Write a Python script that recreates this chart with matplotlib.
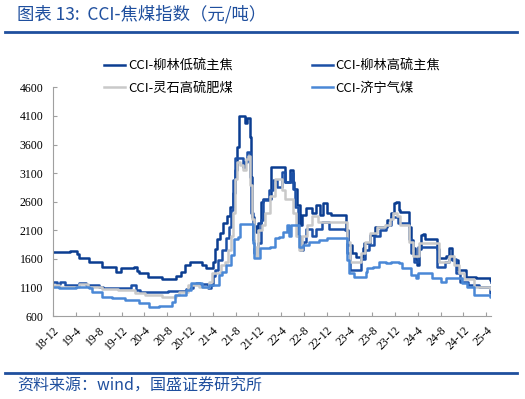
import matplotlib
matplotlib.use('Agg')
import matplotlib.pyplot as plt
from matplotlib.lines import Line2D
import pandas as pd

# CCI-柳林低硫主焦
a_dates = ['2018-12-01', '2019-02-26', '2019-04-05', '2019-04-15', '2019-06-08', '2019-08-17',
           '2019-11-01', '2019-11-27', '2020-02-05', '2020-02-22', '2020-03-02', '2020-04-19',
           '2020-07-03', '2020-09-16', '2020-10-13', '2020-11-04', '2020-12-01', '2021-02-03',
           '2021-02-24', '2021-04-01', '2021-04-12', '2021-04-22', '2021-05-08', '2021-05-24',
           '2021-06-15', '2021-07-01', '2021-07-17', '2021-07-27', '2021-08-07', '2021-08-18',
           '2021-09-20', '2021-10-01', '2021-10-16', '2021-10-24', '2021-10-30', '2021-11-07',
           '2021-11-20', '2021-11-28', '2021-12-16', '2021-12-24', '2022-02-09', '2022-04-20',
           '2022-05-17', '2022-06-02', '2022-06-12', '2022-06-28', '2022-07-09', '2022-07-20',
           '2022-08-13', '2022-09-12', '2022-10-06', '2022-10-25', '2022-11-10', '2022-12-01',
           '2022-12-23', '2023-03-14', '2023-03-27', '2023-04-15', '2023-05-09', '2023-06-11',
           '2023-06-21', '2023-07-18', '2023-08-14', '2023-10-17', '2023-11-11', '2023-11-27',
           '2023-12-07', '2023-12-21', '2023-12-29', '2024-02-15', '2024-02-26', '2024-03-07',
           '2024-03-17', '2024-03-25', '2024-04-06', '2024-04-19', '2024-04-27', '2024-05-07',
           '2024-07-13', '2024-07-24', '2024-08-28', '2024-09-16', '2024-10-02', '2024-11-01',
           '2024-12-16', '2025-02-08', '2025-04-20', '2025-04-25']
a_vals = [1720, 1745, 1680, 1610, 1550, 1462,
          1375, 1434, 1462, 1380, 1346, 1287,
          1250, 1300, 1375, 1490, 1540, 1500,
          1434, 1550, 1780, 1940, 2045, 2220,
          2350, 2510, 2745, 3150, 3560, 4100,
          3970, 4060, 3740, 3040, 2340, 2180,
          2074, 2225, 2600, 2650, 3210, 2950,
          3150, 2950, 2830, 2540, 2190, 2366,
          2483, 2400, 2541, 2366, 2571, 2400,
          2366, 2104, 1842, 1697, 1637, 1784,
          1871, 2017, 2162, 2279, 2396, 2571,
          2600, 2454, 2425, 2162, 1929, 1784,
          1600, 1492, 1780, 2017, 2040, 1940,
          1780, 1609, 1650, 1784, 1580, 1405,
          1287, 1258, 1230, 1200]

# CCI-柳林高硫主焦
b_dates = ['2018-12-01', '2018-12-21', '2019-01-05', '2019-02-03', '2019-04-15', '2019-05-24',
           '2019-08-01', '2019-08-23', '2019-10-10', '2020-01-20', '2020-02-16', '2020-03-08',
           '2020-05-10', '2020-08-05', '2020-11-10', '2020-12-01', '2020-12-14', '2021-01-02',
           '2021-01-23', '2021-03-06', '2021-03-22', '2021-04-01', '2021-04-12', '2021-04-28',
           '2021-05-19', '2021-06-10', '2021-06-28', '2021-07-09', '2021-07-17', '2021-07-27',
           '2021-08-24', '2021-09-09', '2021-09-20', '2021-10-01', '2021-10-19', '2021-10-24',
           '2021-11-01', '2021-11-10', '2021-11-28', '2021-12-16', '2021-12-24', '2022-01-26',
           '2022-02-16', '2022-03-08', '2022-04-04', '2022-04-20', '2022-05-23', '2022-06-02',
           '2022-06-15', '2022-07-01', '2022-07-09', '2022-07-25', '2022-08-13', '2022-09-15',
           '2022-10-06', '2022-11-08', '2022-12-12', '2023-03-11', '2023-03-22', '2023-04-07',
           '2023-06-05', '2023-06-24', '2023-07-13', '2023-08-09', '2023-09-11', '2023-10-12',
           '2023-11-08', '2023-12-15', '2024-02-13', '2024-02-26', '2024-03-12', '2024-04-01',
           '2024-07-13', '2024-08-25', '2024-09-16', '2024-10-24', '2024-11-15', '2024-12-27',
           '2025-02-22', '2025-04-22', '2025-04-25']
b_vals = [1200, 1154, 1200, 1137, 1172, 1137,
          1112, 1083, 1095, 1137, 1060, 1025,
          1014, 1043, 1072, 1095, 1154, 1172,
          1154, 1095, 1140, 1300, 1405, 1580,
          1754, 1964, 2162, 2454, 2979, 3358,
          3370, 3211, 3300, 3474, 3036, 2396,
          1929, 1700, 1870, 2280, 2630, 2800,
          2980, 2850, 3120, 2950, 3100, 2830,
          2500, 2000, 1754, 1900, 2130, 2000,
          2130, 2250, 2130, 2104, 1700, 1405,
          1600, 1750, 1850, 2000, 2100, 2200,
          2330, 2230, 1950, 1700, 1550, 1800,
          1462, 1550, 1600, 1350, 1200, 1142,
          1112, 997, 997]

# CCI-灵石高硫肥煤
c_dates = ['2018-12-01', '2019-01-01', '2019-01-22', '2019-04-15', '2019-06-03', '2019-08-17',
           '2019-11-11', '2020-02-10', '2020-04-03', '2020-07-03', '2020-09-16', '2020-10-02',
           '2020-11-22', '2021-01-18', '2021-03-12', '2021-03-27', '2021-05-14', '2021-06-05',
           '2021-06-20', '2021-07-06', '2021-07-17', '2021-07-27', '2021-08-07', '2021-08-26',
           '2021-09-09', '2021-09-25', '2021-10-05', '2021-10-19', '2021-10-27', '2021-11-07',
           '2021-11-18', '2021-11-28', '2021-12-19', '2022-01-04', '2022-02-01', '2022-02-26',
           '2022-04-04', '2022-04-20', '2022-06-05', '2022-06-21', '2022-07-04', '2022-07-22',
           '2022-08-16', '2022-09-12', '2022-10-14', '2023-03-20', '2023-04-05', '2023-06-03',
           '2023-06-24', '2023-07-23', '2023-08-27', '2023-10-07', '2023-11-03', '2023-11-22',
           '2023-12-10', '2023-12-26', '2024-02-15', '2024-03-04', '2024-04-08', '2024-07-24',
           '2024-09-16', '2024-10-13', '2024-11-09', '2024-12-05', '2025-01-28', '2025-04-20',
           '2025-04-25']
c_vals = [1137, 1112, 1100, 1154, 1112, 1072,
          1054, 997, 967, 937, 970, 1025,
          1137, 1112, 1200, 1346, 1492, 1550,
          1750, 2000, 2400, 3000, 3300, 3250,
          3150, 3350, 3400, 2900, 2300, 1800,
          1650, 2100, 2200, 2400, 2700, 3000,
          2800, 2650, 2400, 2000, 1750, 2000,
          2200, 2350, 2250, 1900, 1550, 1700,
          1900, 2050, 2150, 2200, 2300, 2400,
          2350, 2200, 1900, 1650, 1880, 1550,
          1650, 1500, 1350, 1250, 1112, 1080,
          1080]

# CCI-济宁气煤
d_dates = ['2018-12-01', '2019-01-01', '2019-04-01', '2019-06-08', '2019-06-24', '2019-08-17',
           '2019-10-10', '2019-12-18', '2020-03-02', '2020-04-25', '2020-06-17', '2020-08-29',
           '2020-09-14', '2020-11-07', '2020-12-08', '2021-02-03', '2021-03-12', '2021-05-03',
           '2021-05-19', '2021-06-10', '2021-07-06', '2021-07-25', '2021-08-13', '2021-08-24',
           '2021-11-02', '2021-11-10', '2021-12-09', '2022-02-01', '2022-02-26', '2022-03-20',
           '2022-04-10', '2022-05-01', '2022-05-14', '2022-05-22', '2022-07-07', '2022-07-25',
           '2022-08-30', '2022-10-20', '2022-12-01', '2023-03-20', '2023-03-30', '2023-04-25',
           '2023-06-27', '2023-07-07', '2023-08-03', '2023-09-08', '2023-10-12', '2023-11-11',
           '2023-12-21', '2024-01-06', '2024-02-26', '2024-03-22', '2024-04-03', '2024-06-17',
           '2024-08-04', '2024-08-31', '2024-11-25', '2024-12-20', '2025-01-28', '2025-04-22',
           '2025-04-25']
d_vals = [1112, 1083, 1112, 1083, 1025, 937,
          908, 880, 822, 763, 780, 850,
          967, 1054, 1172, 1112, 1137, 1317,
          1375, 1492, 1667, 1940, 1990, 2215,
          1871, 1609, 1784, 1812, 1958, 1987,
          2075, 2190, 2000, 2190, 1812, 1840,
          1900, 1929, 1958, 1579, 1346, 1290,
          1375, 1434, 1462, 1550, 1520, 1550,
          1520, 1434, 1317, 1258, 1346, 1258,
          1200, 1258, 1171, 1112, 967, 940,
          940]

names = ['CCI-柳林低硫主焦', 'CCI-柳林高硫主焦', 'CCI-灵石高硫肥煤', 'CCI-济宁气煤']
colors = ['#0b3d91', '#1c50a6', '#c9c9c9', '#4a88d6']
y_ticks = [600, 1100, 1600, 2100, 2600, 3100, 3600, 4100, 4600]

cjk = ['Noto Sans CJK SC', 'DejaVu Sans']
num_font = 'Liberation Serif'
blue = '#1f4f9e'

fig = plt.figure(figsize=(5.25, 3.99), dpi=100)
ax = fig.add_axes([0.1015, 0.208, 0.833, 0.573])

series = [(a_dates, a_vals), (b_dates, b_vals), (c_dates, c_vals), (d_dates, d_vals)]
lines = []
for (dates, vals), name, col in zip(series, names, colors):
    ln, = ax.plot(pd.to_datetime(dates), vals, drawstyle='steps-post', color=col, lw=1.8, label=name)
    lines.append(ln)

ax.set_ylim(600, 4600)
ax.set_yticks(y_ticks)
ax.set_xlim(pd.Timestamp('2018-12-01'), pd.Timestamp('2025-04-25'))

tick_dates = pd.date_range('2018-12-01', '2025-04-01', freq='4MS')
ax.set_xticks(tick_dates)
ax.set_xticklabels([f'{d.year % 100}-{d.month}' for d in tick_dates],
                   rotation=45, ha='right', va='top', rotation_mode='anchor')

for lab in ax.get_xticklabels() + ax.get_yticklabels():
    lab.set_fontfamily(num_font)
    lab.set_fontsize(8.5)

ax.tick_params(axis='x', direction='in', length=3, color='#a0a0a0', pad=6)
ax.tick_params(axis='y', direction='in', length=3, color='#a0a0a0', pad=7)
for s in ['top', 'right']:
    ax.spines[s].set_visible(False)
for s in ['left', 'bottom']:
    ax.spines[s].set_color('#a0a0a0')
    ax.spines[s].set_linewidth(0.8)

# legend fills column-wise, so order handles to get rows: (低硫, 高硫), (灵石, 济宁)
order = [0, 2, 1, 3]
leg = fig.legend([lines[i] for i in order], [names[i] for i in order],
                 loc='upper left', bbox_to_anchor=(0.176, 0.88), ncol=2, frameon=False,
                 prop={'family': cjk, 'size': 9.5}, handlelength=1.6, handletextpad=0.2,
                 columnspacing=6.0, labelspacing=0.7)

fig.text(0.032, 0.965, '图表 13:  CCI-焦煤指数（元/吨）', family=cjk, fontsize=12.5,
         color=blue, va='center', ha='left')
fig.text(0.032, 0.033, '资料来源：wind，国盛证券研究所', family=cjk, fontsize=11.5,
         color=blue, va='center', ha='left')
fig.add_artist(Line2D([0.01, 0.985], [0.92, 0.92], color=blue, lw=2))
fig.add_artist(Line2D([0.01, 0.985], [0.065, 0.065], color=blue, lw=2))

fig.savefig('out.png', dpi=100)
